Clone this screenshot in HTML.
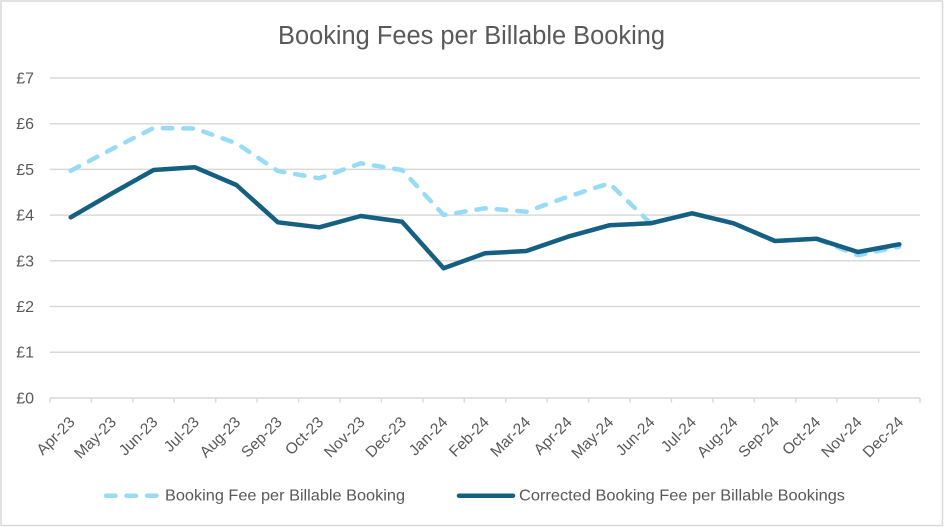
<!DOCTYPE html>
<html><head><meta charset="utf-8"><style>
html,body{margin:0;padding:0;background:#fff;}
svg{display:block;font-family:"Liberation Sans",sans-serif;}
</style></head><body>
<svg width="944" height="527" viewBox="0 0 944 527" xmlns="http://www.w3.org/2000/svg">
<rect x="0" y="0" width="944" height="527" fill="#fff"/>
<rect x="1" y="1" width="941.5" height="524.5" fill="none" stroke="#d9d9d9" stroke-width="1.5"/>
<text x="471.5" y="44" font-size="25.5" fill="#595959" text-anchor="middle" textLength="387" lengthAdjust="spacingAndGlyphs">Booking Fees per Billable Booking</text>
<g stroke="#d9d9d9" stroke-width="1.5">
<line x1="50" y1="78" x2="920" y2="78"/>
<line x1="50" y1="123.7" x2="920" y2="123.7"/>
<line x1="50" y1="169.4" x2="920" y2="169.4"/>
<line x1="50" y1="215.1" x2="920" y2="215.1"/>
<line x1="50" y1="260.8" x2="920" y2="260.8"/>
<line x1="50" y1="306.5" x2="920" y2="306.5"/>
<line x1="50" y1="352.2" x2="920" y2="352.2"/>
<line x1="50" y1="398" x2="920" y2="398"/>
<path d="M50 398V402.5M91.4 398V402.5M132.9 398V402.5M174.3 398V402.5M215.7 398V402.5M257.1 398V402.5M298.6 398V402.5M340 398V402.5M381.4 398V402.5M422.9 398V402.5M464.3 398V402.5M505.7 398V402.5M547.1 398V402.5M588.6 398V402.5M630 398V402.5M671.4 398V402.5M712.9 398V402.5M754.3 398V402.5M795.7 398V402.5M837.1 398V402.5M878.6 398V402.5M920 398V402.5"/>
</g>
<g font-size="16" fill="#595959" text-anchor="end">
<text x="34" y="83.5">£7</text>
<text x="34" y="129.2">£6</text>
<text x="34" y="174.9">£5</text>
<text x="34" y="220.6">£4</text>
<text x="34" y="266.3">£3</text>
<text x="34" y="312">£2</text>
<text x="34" y="357.7">£1</text>
<text x="34" y="403.5">£0</text>
</g>
<g font-size="15.5" fill="#595959" text-anchor="end">
<text transform="translate(75.7,423) rotate(-45)">Apr-23</text>
<text transform="translate(117.1,423) rotate(-45)">May-23</text>
<text transform="translate(158.6,423) rotate(-45)">Jun-23</text>
<text transform="translate(200,423) rotate(-45)">Jul-23</text>
<text transform="translate(241.4,423) rotate(-45)">Aug-23</text>
<text transform="translate(282.9,423) rotate(-45)">Sep-23</text>
<text transform="translate(324.3,423) rotate(-45)">Oct-23</text>
<text transform="translate(365.7,423) rotate(-45)">Nov-23</text>
<text transform="translate(407.1,423) rotate(-45)">Dec-23</text>
<text transform="translate(448.6,423) rotate(-45)">Jan-24</text>
<text transform="translate(490,423) rotate(-45)">Feb-24</text>
<text transform="translate(531.4,423) rotate(-45)">Mar-24</text>
<text transform="translate(572.9,423) rotate(-45)">Apr-24</text>
<text transform="translate(614.3,423) rotate(-45)">May-24</text>
<text transform="translate(655.7,423) rotate(-45)">Jun-24</text>
<text transform="translate(697.1,423) rotate(-45)">Jul-24</text>
<text transform="translate(738.6,423) rotate(-45)">Aug-24</text>
<text transform="translate(780,423) rotate(-45)">Sep-24</text>
<text transform="translate(821.4,423) rotate(-45)">Oct-24</text>
<text transform="translate(862.9,423) rotate(-45)">Nov-24</text>
<text transform="translate(904.3,423) rotate(-45)">Dec-24</text>
</g>
<polyline fill="none" stroke="#97dbf7" stroke-width="4.5" stroke-linecap="round" stroke-linejoin="round" stroke-dasharray="9.5 11"
points="70.7,170.7 112.1,149 153.6,128 195,128.5 236.4,143.3 277.9,171 319.3,178.3 360.7,163.3 402.1,170 443.6,215 485,208.3 526.4,211.7 567.9,196.7 609.3,183.3 650.7,223.3 692.1,213.3 733.6,223.3 775,241 816.4,238.7 857.9,255.3 899.3,246.7"/>
<polyline fill="none" stroke="#156082" stroke-width="4.5" stroke-linecap="round" stroke-linejoin="round"
points="70.7,217.3 112.1,193.3 153.6,170 195,167.3 236.4,185 277.9,222.3 319.3,227.3 360.7,216 402.1,221.7 443.6,268.3 485,253.3 526.4,251 567.9,236.7 609.3,225.3 650.7,223.3 692.1,213.3 733.6,223.3 775,241 816.4,238.7 857.9,252 899.3,244.3"/>
<line x1="106" y1="495.7" x2="157" y2="495.7" stroke="#97dbf7" stroke-width="4.5" stroke-linecap="round" stroke-dasharray="9.5 11"/>
<text x="165" y="500.5" font-size="16" fill="#595959" textLength="240" lengthAdjust="spacingAndGlyphs">Booking Fee per Billable Booking</text>
<line x1="459" y1="495.7" x2="513" y2="495.7" stroke="#156082" stroke-width="4.5" stroke-linecap="round"/>
<text x="519" y="500.5" font-size="16" fill="#595959" textLength="326" lengthAdjust="spacingAndGlyphs">Corrected Booking Fee per Billable Bookings</text>
</svg>
</body></html>
